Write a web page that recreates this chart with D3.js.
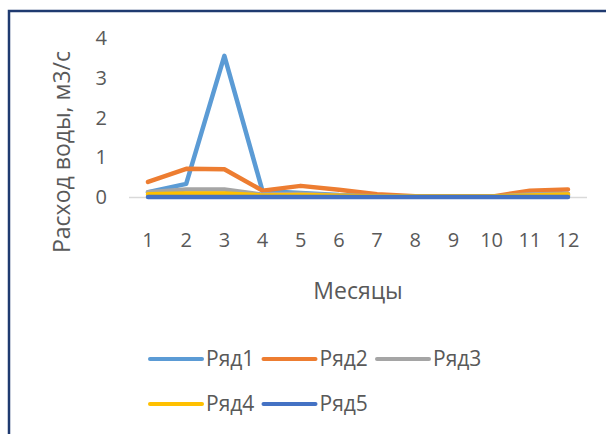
<!DOCTYPE html>
<html>
<head>
<meta charset="utf-8">
<script src="https://cdn.jsdelivr.net/npm/d3@7"></script>
<style>
    body { margin: 0; background: #fff; }
    text { font-family: "Open Sans", "Noto Sans", sans-serif; fill: #595959; }
</style>
</head>
<body>
<script>
// months and series values (м3/с)
var months = [1, 2, 3, 4, 5, 6, 7, 8, 9, 10, 11, 12];
var seriesNames = ["Ряд1", "Ряд2", "Ряд3", "Ряд4", "Ряд5"];
var row1 = [0.12, 0.33, 3.55, 0.15, 0.1, 0.05, 0.03, 0.01, 0.01, 0.01, 0.03, 0.03];
var row2 = [0.38, 0.71, 0.70, 0.16, 0.28, 0.18, 0.07, 0.02, 0.01, 0.01, 0.16, 0.19];
var row3 = [0.12, 0.19, 0.19, 0.06, 0.08, 0.04, 0.02, 0.01, 0.01, 0.01, 0.06, 0.08];
var row4 = [0.07, 0.09, 0.09, 0.04, 0.05, 0.03, 0.01, 0.01, 0.01, 0.01, 0.04, 0.06];
var row5 = [0, 0, 0, 0, 0, 0, 0, 0, 0, 0, 0, 0];
var yTicks = [0, 1, 2, 3, 4];
var colors = ["#5B9BD5", "#ED7D31", "#A5A5A5", "#FFC000", "#4472C4"];

var series = [row1, row2, row3, row4, row5];

var width = 606, height = 434;

var svg = d3.select("body").append("svg")
    .attr("width", width)
    .attr("height", height);

// chart frame
svg.append("rect")
    .attr("x", 9)
    .attr("y", 11)
    .attr("width", 620)
    .attr("height", 450)
    .attr("fill", "none")
    .attr("stroke", "#1F3A70")
    .attr("stroke-width", 2.5);

var x = d3.scalePoint()
    .domain(months)
    .range([148, 568]);

var y = d3.scaleLinear()
    .domain([0, 4])
    .range([197, 38]);

// y tick labels
svg.selectAll(".ytick")
    .data(yTicks)
    .enter().append("text")
    .attr("class", "ytick")
    .attr("x", 107)
    .attr("y", function(d) { return y(d); })
    .attr("dy", ".35em")
    .style("text-anchor", "end")
    .style("font-size", "20px")
    .text(function(d) { return d; });

// x axis line
svg.append("line")
    .attr("x1", 129)
    .attr("x2", 587)
    .attr("y1", y(0) + 0.5)
    .attr("y2", y(0) + 0.5)
    .attr("stroke", "#D9D9D9")
    .attr("stroke-width", 1.5);

// x tick labels
svg.selectAll(".xtick")
    .data(months)
    .enter().append("text")
    .attr("class", "xtick")
    .attr("x", function(d) { return x(d); })
    .attr("y", 240)
    .attr("dy", ".35em")
    .style("text-anchor", "middle")
    .style("font-size", "20px")
    .text(function(d) { return d; });

// axis titles
svg.append("text")
    .attr("transform", "translate(62,152) rotate(-90)")
    .attr("dy", ".35em")
    .style("text-anchor", "middle")
    .style("font-size", "23px")
    .text("Расход воды, м3/с");

svg.append("text")
    .attr("x", 358)
    .attr("y", 291)
    .attr("dy", ".35em")
    .style("text-anchor", "middle")
    .style("font-size", "23px")
    .text("Месяцы");

// lines
var line = d3.line()
    .x(function(d, i) { return x(months[i]); })
    .y(function(d) { return y(d); });

svg.selectAll(".series")
    .data(series)
    .enter().append("path")
    .attr("class", "series")
    .attr("d", line)
    .attr("fill", "none")
    .attr("stroke", function(d, i) { return colors[i]; })
    .attr("stroke-width", 4.5)
    .attr("stroke-linejoin", "round")
    .attr("stroke-linecap", "round");

// legend
var legend = svg.selectAll(".legend")
    .data(seriesNames)
    .enter().append("g")
    .attr("class", "legend")
    .attr("transform", function(d, i) {
        return "translate(" + (150 + (i % 3) * 113.5) + "," + (359 + Math.floor(i / 3) * 45) + ")";
    });

legend.append("line")
    .attr("x1", 0)
    .attr("x2", 52)
    .attr("stroke", function(d, i) { return colors[i]; })
    .attr("stroke-width", 4)
    .attr("stroke-linecap", "round");

legend.append("text")
    .attr("x", 56)
    .attr("dy", ".35em")
    .style("font-size", "21px")
    .text(function(d) { return d; });
</script>
</body>
</html>
